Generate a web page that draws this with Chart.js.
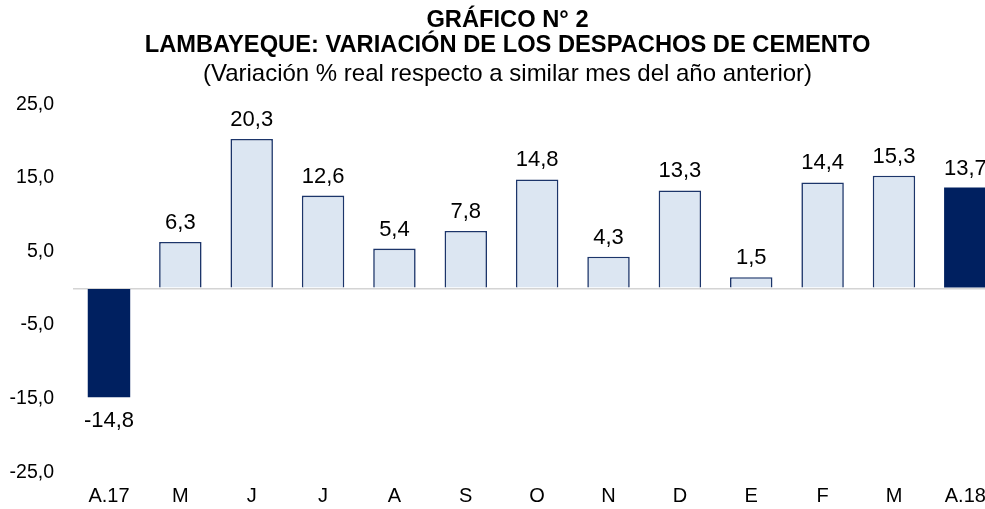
<!DOCTYPE html>
<html><head><meta charset="utf-8">
<script src="https://cdn.jsdelivr.net/npm/chart.js@4.4.1/dist/chart.umd.min.js"></script>
<style>
html,body{margin:0;padding:0;background:#fff;overflow:hidden;width:985px;height:509px}
#wrap{width:1015px;height:509px;position:relative}
canvas{display:block}
</style></head><body>
<div id="wrap"><canvas id="c" width="1015" height="509"></canvas></div>
<script>
const categories = ['A.17','M','J','J','A','S','O','N','D','E','F','M','A.18'];
const values = [-14.8, 6.3, 20.3, 12.6, 5.4, 7.8, 14.8, 4.3, 13.3, 1.5, 14.4, 15.3, 13.7];
const highlighted = [true, false, false, false, false, false, false, false, false, false, false, false, true];
const yTickValues = [-25, -15, -5, 5, 15, 25];
const titleLines = ['GRÁFICO N° 2', 'LAMBAYEQUE: VARIACIÓN DE LOS DESPACHOS DE CEMENTO'];
const subtitleText = '(Variación % real respecto a similar mes del año anterior)';

const FONT = '"Liberation Sans", Arial, Helvetica, sans-serif';
const fmt = v => v.toFixed(1).replace('.', ',');

const valueLabels = {
  id: 'valueLabels',
  afterDatasetsDraw(chart) {
    const ctx = chart.ctx;
    const meta = chart.getDatasetMeta(0);
    ctx.save();
    ctx.font = '22px ' + FONT;
    ctx.fillStyle = '#000';
    ctx.textAlign = 'center';
    ctx.textBaseline = 'alphabetic';
    meta.data.forEach((bar, i) => {
      const v = values[i];
      const txt = fmt(v);
      if (v >= 0) ctx.fillText(txt, bar.x, bar.y - 13);
      else ctx.fillText(txt, bar.x, bar.y + 30);
    });
    ctx.restore();
  }
};

new Chart(document.getElementById('c'), {
  type: 'bar',
  data: {
    labels: categories,
    datasets: [{
      data: values,
      backgroundColor: highlighted.map(h => h ? '#002060' : '#DCE6F2'),
      borderColor: highlighted.map(h => h ? '#002060' : '#1C356A'),
      borderWidth: highlighted.map(h => h ? 0 : 1.6),
      barPercentage: 0.595,
      categoryPercentage: 1.0
    }]
  },
  options: {
    responsive: false,
    devicePixelRatio: 1,
    animation: false,
    layout: { padding: 0 },
    plugins: {
      legend: { display: false },
      tooltip: { enabled: false },
      title: {
        display: true,
        text: titleLines,
        color: '#000',
        font: { family: FONT, size: 23.7, weight: 'bold', lineHeight: 1.034 },
        padding: { top: 8.5, bottom: 0 }
      },
      subtitle: {
        display: true,
        text: subtitleText,
        color: '#000',
        font: { family: FONT, size: 24, weight: 'normal', lineHeight: 1.2 },
        padding: { top: 2, bottom: 16.1 }
      }
    },
    scales: {
      x: {
        grid: { display: false, drawTicks: false },
        border: { display: false },
        ticks: { color: '#000', font: { family: FONT, size: 20 }, padding: 12.3, maxRotation: 0, autoSkip: false },
        afterFit(scale) { scale.height = 36.8; }
      },
      y: {
        min: -25,
        max: 25,
        afterBuildTicks(scale) {
          scale.ticks = yTickValues.concat([0]).sort((a, b) => a - b).map(v => ({ value: v }));
        },
        grid: {
          drawTicks: false,
          color: c => (c.tick && c.tick.value === 0) ? '#D4D4D4' : 'rgba(0,0,0,0)',
          lineWidth: 1.5
        },
        border: { display: false },
        ticks: {
          color: '#000',
          font: { family: FONT, size: 19.5 },
          padding: 19.3,
          callback: v => v === 0 ? '' : fmt(v)
        },
        afterFit(scale) { scale.width = 73.3; }
      },
      yRight: {
        position: 'right',
        display: true,
        grid: { display: false, drawTicks: false },
        border: { display: false },
        ticks: { display: false },
        afterFit(scale) { scale.width = 14; }
      }
    }
  },
  plugins: [valueLabels]
});
</script>
</body></html>
